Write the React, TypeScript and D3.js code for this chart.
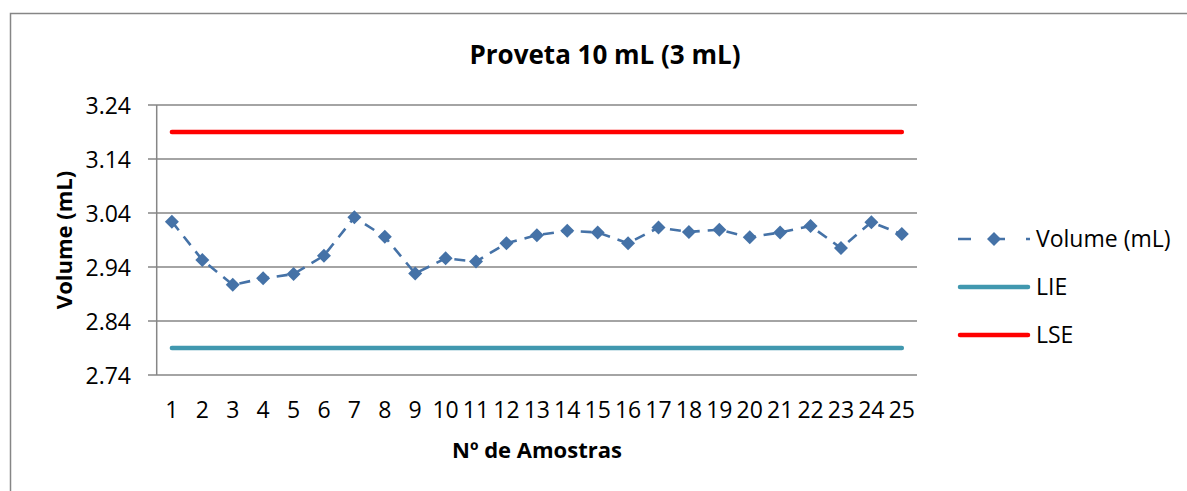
import React from "react";
import * as d3 from "d3";

// amostras 1..25
const samples = d3.range(1, 26).map(String);
// volume medido (mL)
const volume = [
  3.024, 2.953, 2.907, 2.919, 2.927, 2.961, 3.032, 2.996, 2.928, 2.956,
  2.95, 2.984, 2.999, 3.007, 3.004, 2.984, 3.013, 3.005, 3.009, 2.995,
  3.004, 3.016, 2.975, 3.023, 3.001,
];
const LIE = 2.79;
const LSE = 3.19;
const yTicks = [2.74, 2.84, 2.94, 3.04, 3.14, 3.24];

const W = 1187;
const H = 491;
const font = "'Open Sans', sans-serif";
const grid = "#868686";
const blue = "#4572A7";
const teal = "#4198AF";
const red = "#FF0000";

export default function App() {
  const x = d3.scalePoint<string>().domain(samples).range([156.7, 917]).padding(0.5);
  const y = d3.scaleLinear().domain([2.74, 3.24]).range([375, 105]);

  const line = d3
    .line<number>()
    .x((d, i) => x(samples[i])!)
    .y((d) => y(d));

  const x0 = x(samples[0])!;
  const x1 = x(samples[samples.length - 1])!;

  // diamond marker
  const diamond = (cx: number, cy: number, r: number) =>
    `M${cx},${cy - r}L${cx + r},${cy}L${cx},${cy + r}L${cx - r},${cy}Z`;

  return (
    <svg width={W} height={H} style={{ position: "absolute", left: 0, top: 0 }} fontFamily={font}>
      <rect x={0} y={0} width={W} height={H} fill="#fff" />
      {/* borda do gráfico */}
      <path d={`M10.5,${H + 5}V13.5H${W + 5}`} fill="none" stroke={grid} strokeWidth={1.5} />

      <text x={605} y={64} textAnchor="middle" fontSize={26} fontWeight="bold">
        Proveta 10 mL (3 mL)
      </text>

      {/* grade horizontal */}
      {yTicks.map((t) => (
        <g key={t}>
          <line x1={148} x2={917} y1={y(t)} y2={y(t)} stroke={grid} strokeWidth={1.5} />
          <text x={131} y={y(t)} dy="0.38em" textAnchor="end" fontSize={23}>
            {t.toFixed(2)}
          </text>
        </g>
      ))}
      <line x1={156.7} x2={156.7} y1={105} y2={375} stroke={grid} strokeWidth={1.5} />

      {samples.map((s) => (
        <text key={s} x={x(s)} y={418} textAnchor="middle" fontSize={23}>
          {s}
        </text>
      ))}

      <text x={537} y={458} textAnchor="middle" fontSize={22} fontWeight="bold">
        Nº de Amostras
      </text>
      <text
        transform="translate(64,240) rotate(-90)"
        textAnchor="middle"
        dy="0.36em"
        fontSize={22}
        fontWeight="bold"
      >
        Volume (mL)
      </text>

      {/* limites */}
      <line x1={x0} x2={x1} y1={y(LSE)} y2={y(LSE)} stroke={red} strokeWidth={4.5} strokeLinecap="round" />
      <line x1={x0} x2={x1} y1={y(LIE)} y2={y(LIE)} stroke={teal} strokeWidth={4.5} strokeLinecap="round" />

      <path d={line(volume)!} fill="none" stroke={blue} strokeWidth={2.6} strokeDasharray="11,8" />
      {volume.map((v, i) => (
        <path key={i} d={diamond(x(samples[i])!, y(v), 7)} fill={blue} />
      ))}

      {/* legenda */}
      <g fontSize={23}>
        <line x1={958} x2={1030} y1={239} y2={239} stroke={blue} strokeWidth={2.6} strokeDasharray="13,21" />
        <path d={diamond(994, 239, 7)} fill={blue} />
        <text x={1036} y={239} dy="0.36em">Volume (mL)</text>

        <line x1={960} x2={1028} y1={287} y2={287} stroke={teal} strokeWidth={4.5} strokeLinecap="round" />
        <text x={1036} y={287} dy="0.36em">LIE</text>

        <line x1={960} x2={1028} y1={335} y2={335} stroke={red} strokeWidth={4.5} strokeLinecap="round" />
        <text x={1036} y={335} dy="0.36em">LSE</text>
      </g>
    </svg>
  );
}
